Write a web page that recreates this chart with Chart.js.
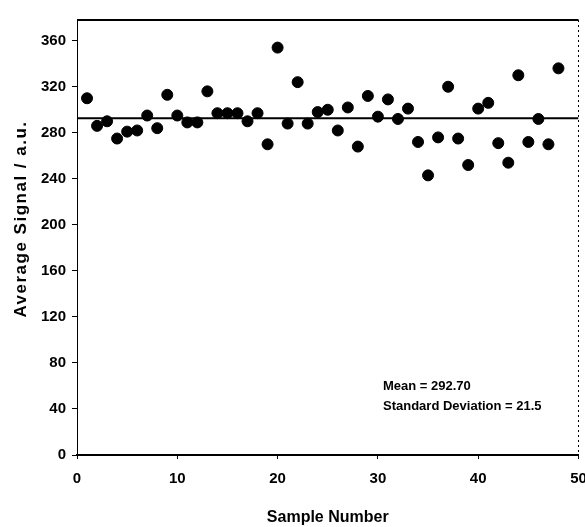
<!DOCTYPE html>
<html>
<head>
<meta charset="utf-8">
<script src="https://cdn.jsdelivr.net/npm/chart.js@4/dist/chart.umd.min.js"></script>
<style>
  html, body { margin: 0; padding: 0; background: #fff; }
  #wrap { width: 585px; height: 527px; position: relative; }
</style>
</head>
<body>
<div id="wrap"><canvas id="c" width="585" height="527"></canvas></div>
<script>
// ---- Data ----
const sampleNumbers = [1,2,3,4,5,6,7,8,9,10,11,12,13,14,15,16,17,18,19,20,21,22,23,24,
                       25,26,27,28,29,30,31,32,33,34,35,36,37,38,39,40,41,42,43,44,45,46,47,48];
const averageSignal = [310,286,290,275,281,282,295,284,313,295,289,289,316,297,297,297,290,297,270,354,
                       288,324,288,298,300,282,302,268,312,294,309,292,301,272,243,276,320,275,252,301,
                       306,271,254,330,272,292,270,336];
const meanValue = 292.70;
const stdDev = 21.5;
const xTicks = [0,10,20,30,40,50];
const yTicks = [0,40,80,120,160,200,240,280,320,360];
const annotationLines = ["Mean = 292.70", "Standard Deviation = 21.5"];
const yAxisTitle = "Average Signal / a.u.";
const xAxisTitle = "Sample Number";

const FONT = "'Liberation Sans', Arial, sans-serif";

const points = sampleNumbers.map((x, i) => ({ x: x, y: averageSignal[i] }));

const framePlugin = {
  id: 'frame',
  afterDatasetsDraw(chart) {
    const { ctx, chartArea: a } = chart;
    ctx.save();
    ctx.strokeStyle = '#000';
    // top border (solid, thick)
    ctx.lineWidth = 2;
    ctx.beginPath(); ctx.moveTo(a.left, a.top); ctx.lineTo(a.right, a.top); ctx.stroke();
    // right border (dotted, thin)
    ctx.lineWidth = 1;
    ctx.setLineDash([2, 3]);
    ctx.beginPath(); ctx.moveTo(a.right, a.top); ctx.lineTo(a.right, a.bottom); ctx.stroke();
    ctx.setLineDash([]);
    // annotation text
    ctx.fillStyle = '#000';
    ctx.font = "bold 13px " + FONT;
    ctx.textAlign = 'left';
    ctx.textBaseline = 'middle';
    ctx.fillText(annotationLines[0], 383, 386);
    ctx.fillText(annotationLines[1], 383, 406);
    // y-axis title
    ctx.save();
    ctx.translate(21, 219);
    ctx.rotate(-Math.PI / 2);
    ctx.font = "bold 17px " + FONT;
    try { ctx.letterSpacing = '1.5px'; } catch (e) {}
    ctx.textAlign = 'center';
    ctx.textBaseline = 'middle';
    ctx.fillText(yAxisTitle, 0, 0);
    ctx.restore();
    ctx.restore();
  }
};

new Chart(document.getElementById('c'), {
  data: {
    datasets: [
      {
        type: 'scatter',
        label: 'Average Signal',
        data: points,
        backgroundColor: '#000',
        borderColor: '#000',
        pointRadius: 5.5,
        pointHoverRadius: 5.5,
        order: 1
      },
      {
        type: 'line',
        label: 'Mean',
        data: [{ x: 0, y: meanValue }, { x: 50, y: meanValue }],
        borderColor: '#000',
        borderWidth: 2,
        pointRadius: 0,
        fill: false,
        order: 2
      }
    ]
  },
  options: {
    responsive: false,
    animation: false,
    events: [],
    layout: { padding: { left: 8, right: 2, top: 20, bottom: 0 } },
    plugins: { legend: { display: false }, tooltip: { enabled: false } },
    scales: {
      x: {
        type: 'linear',
        min: 0, max: 50,
        afterBuildTicks(s) { s.ticks = xTicks.map(v => ({ value: v })); },
        afterFit(s) { s.height = 72; s.paddingRight = 0; s.paddingLeft = 0; },
        border: { display: true, color: '#000', width: 2 },
        grid: { drawOnChartArea: false, drawTicks: true, tickLength: 4, color: '#000' },
        ticks: { color: '#000', padding: 11, maxRotation: 0, font: { family: FONT, size: 15, weight: 'bold' } },
        title: { display: true, text: xAxisTitle, color: '#000', padding: { top: 10, bottom: 0 },
                 font: { family: FONT, size: 16, weight: 'bold' } }
      },
      y: {
        type: 'linear',
        min: 0, max: 378,
        afterBuildTicks(s) { s.ticks = yTicks.map(v => ({ value: v })); },
        afterFit(s) { s.width = 69; s.paddingTop = 0; s.paddingBottom = 0; },
        border: { display: true, color: '#000', width: 1 },
        grid: { drawOnChartArea: false, drawTicks: true, tickLength: 5, color: '#000' },
        ticks: { color: '#000', padding: 6, font: { family: FONT, size: 15, weight: 'bold' } },
        title: { display: false }
      }
    }
  },
  plugins: [framePlugin]
});
</script>
</body>
</html>
